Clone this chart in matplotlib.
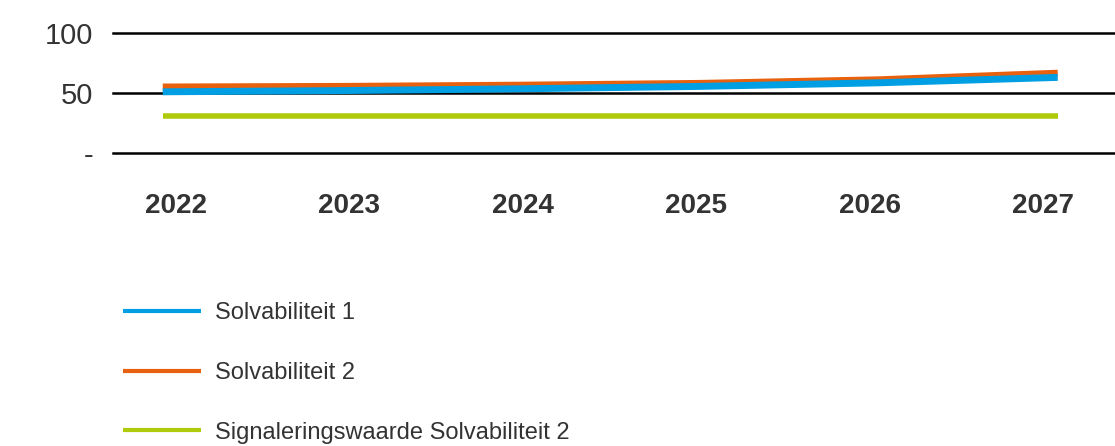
import numpy as np
import matplotlib
matplotlib.use("Agg")
import matplotlib.pyplot as plt

plt.rcParams['font.family'] = ['Liberation Sans', 'DejaVu Sans']

years = ['2022', '2023', '2024', '2025', '2026', '2027']
solv1 = [51, 52, 53.5, 55.5, 58.5, 63]
solv2 = [55, 55.5, 56.5, 58, 61, 66.5]
signal2 = [31, 31, 31, 31, 31, 31]

blue = '#009FE3'
orange = '#E8610F'
green = '#AFCA0B'
txt = '#333333'

fig = plt.figure(figsize=(11.15, 4.46), dpi=100)
ax = fig.add_axes([0.101, 0.657, 0.899, 0.269])

x = np.arange(len(years))

# gridlines
for v in [0, 50, 100]:
    ax.axhline(v, color='black', lw=1.8, zorder=1, clip_on=False)

ax.plot(x, signal2, color=green, lw=4, zorder=2, solid_capstyle='butt',
        label='Signaleringswaarde Solvabiliteit 2')
ax.plot(x, solv2, color=orange, lw=5, zorder=3, solid_capstyle='butt',
        label='Solvabiliteit 2')
ax.plot(x, solv1, color=blue, lw=5, zorder=4, solid_capstyle='butt',
        label='Solvabiliteit 1')

ax.set_xlim(-0.28, 5.32)
ax.set_ylim(0, 100)
ax.set_yticks([0, 50, 100])
ax.set_yticklabels(['-', '50', '100'], fontsize=21, color=txt)
# year labels sit a little off the data points, like the original
ax.set_xticks(x + np.linspace(0.073, -0.08, len(x)))
ax.set_xticklabels(years, fontsize=20, fontweight='bold', color=txt)
ax.tick_params(axis='y', length=0, pad=14)
ax.tick_params(axis='x', length=0, pad=29)
for s in ax.spines.values():
    s.set_visible(False)

h, l = ax.get_legend_handles_labels()
order = [2, 1, 0]
leg = fig.legend([h[i] for i in order], [l[i] for i in order],
                 loc='upper left', bbox_to_anchor=(123 / 1115, 1 - 302 / 446),
                 frameon=False, fontsize=17, handlelength=3.3,
                 handletextpad=0.6, labelspacing=1.6, borderpad=0,
                 borderaxespad=0)
for line in leg.get_lines():
    line.set_linewidth(3)
for t in leg.get_texts():
    t.set_color(txt)

fig.savefig('out.png', dpi=100)
